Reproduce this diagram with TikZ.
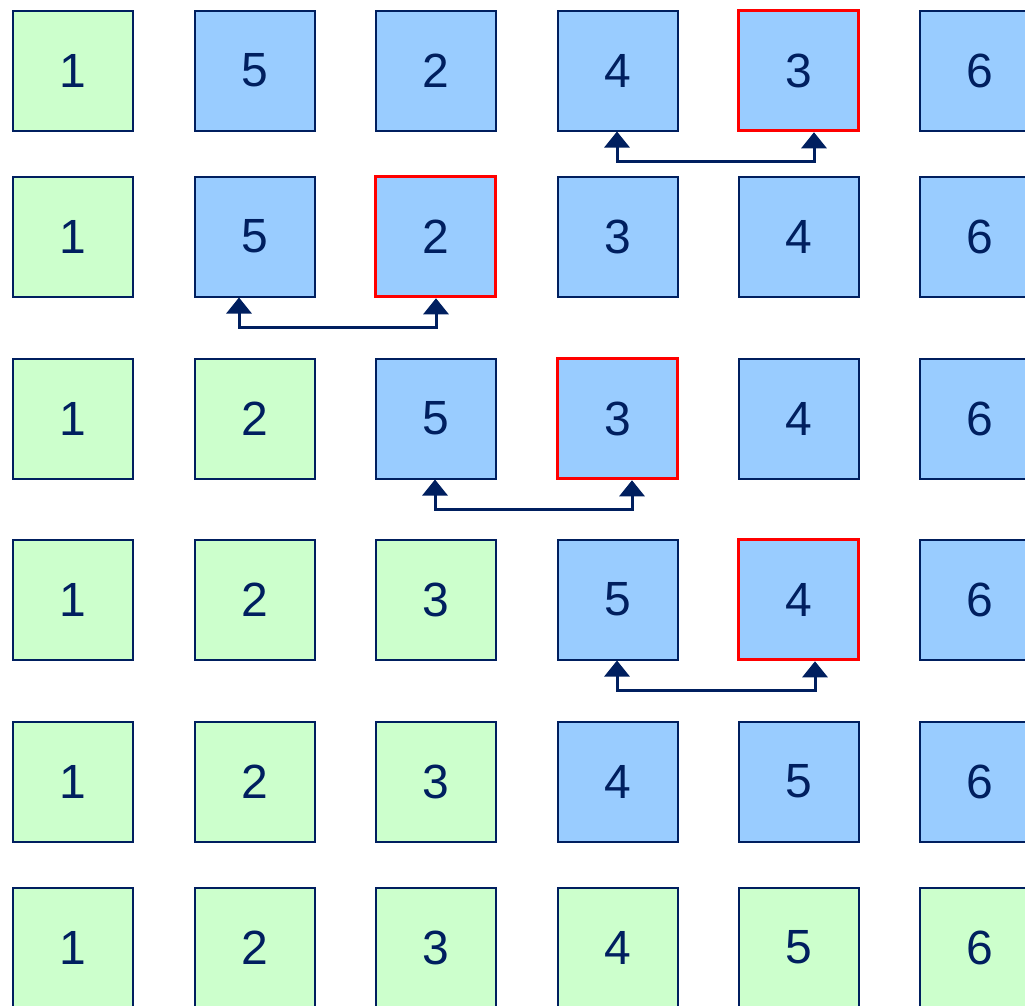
\documentclass[tikz,border=0pt]{standalone}
\usepackage{fontspec}
\setmainfont{Liberation Sans}
\usetikzlibrary{arrows.meta}
\definecolor{navy}{HTML}{001F5F}
\definecolor{gfill}{HTML}{CCFFCC}
\definecolor{bfill}{HTML}{99CCFF}
\definecolor{redb}{HTML}{FF0000}
\tikzset{
  cell/.style={draw=navy, line width=2pt, minimum size=120pt, inner sep=0pt, text=navy, font=\fontsize{48}{50}\selectfont},
  g/.style={cell, fill=gfill},
  b/.style={cell, fill=bfill},
  r/.style={cell, fill=bfill, draw=redb, line width=3.5pt},
  swaparr/.style={draw=navy, line width=3pt, {Triangle[width=25pt,length=16pt]}-{Triangle[width=25pt,length=16pt]}}
}
\begin{document}
\begin{tikzpicture}[x=1pt,y=1pt]
\useasboundingbox (0,0) rectangle (1025,-1005);
\def\xs{{72.5,254.5,435.5,617.5,798.5,979.5}}
\def\ys{{70.5,236.5,418.5,599.5,781.5,947.5}}
\foreach \row/\cells in {1/{g/1,b/5,b/2,b/4,r/3,b/6},
                         2/{g/1,b/5,r/2,b/3,b/4,b/6},
                         3/{g/1,g/2,b/5,r/3,b/4,b/6},
                         4/{g/1,g/2,g/3,b/5,r/4,b/6},
                         5/{g/1,g/2,g/3,b/4,b/5,b/6},
                         6/{g/1,g/2,g/3,g/4,g/5,g/6}}{
  \foreach [count=\col] \st/\num in \cells {
    \pgfmathsetmacro{\cx}{\xs[\col-1]}
    \pgfmathsetmacro{\cy}{\ys[\row-1]}
    \node[\st] (r\row c\col) at (\cx,-\cy) {\num};
  }
}
\draw[swaparr] ([xshift=-0.5pt]r1c4.south) -- ++(0,-30) -| ([xshift=15.5pt]r1c5.south);
\draw[swaparr] ([xshift=-15.5pt]r2c2.south) -- ++(0,-30) -| ([xshift=0.5pt]r2c3.south);
\draw[swaparr] ([xshift=-0.5pt]r3c3.south) -- ++(0,-30) -| ([xshift=14.5pt]r3c4.south);
\draw[swaparr] ([xshift=-0.5pt]r4c4.south) -- ++(0,-30) -| ([xshift=16.5pt]r4c5.south);
\end{tikzpicture}
\end{document}
